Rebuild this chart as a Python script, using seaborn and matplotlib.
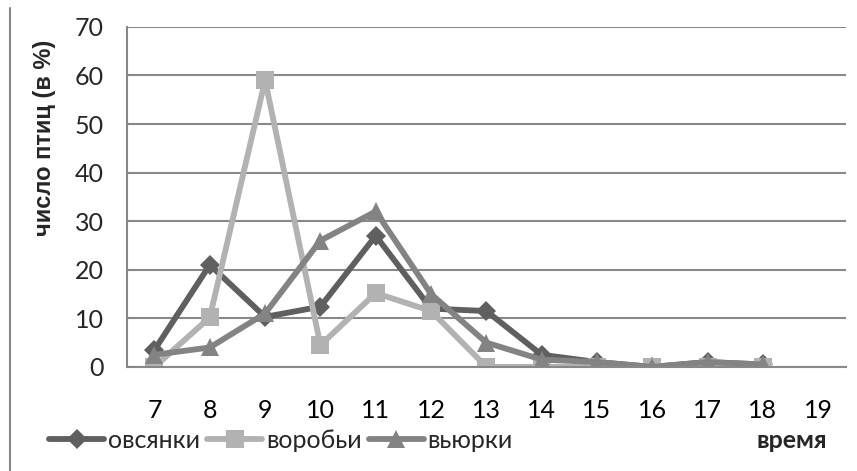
import matplotlib.pyplot as plt
import numpy as np
import pandas as pd
import seaborn as sns
from matplotlib.lines import Line2D

hours = [7, 8, 9, 10, 11, 12, 13, 14, 15, 16, 17, 18]
ovsyanki = [3.5, 21, 10.3, 12.4, 27, 12, 11.5, 2.5, 1, 0, 1, 0.5]
vorobyi = [0, 10.2, 59, 4.5, 15.2, 11.5, 0, 0, 0, 0, 0, 0]
vyurki = [2.5, 4, 11, 26, 32, 15, 5, 1.5, 1, 0, 1, 0.5]
series_names = ["овсянки", "воробьи", "вьюрки"]
x_ticks = list(range(7, 20))
y_ticks = [0, 10, 20, 30, 40, 50, 60, 70]

df = pd.DataFrame({"hour": hours * 3,
                   "value": ovsyanki + vorobyi + vyurki,
                   "bird": np.repeat(series_names, len(hours))})

sns.set_style("white")
plt.rcParams["font.family"] = ["Lato", "DejaVu Sans"]

fig = plt.figure(figsize=(8.57, 4.71), dpi=100)
ax = fig.add_axes([0.148, 0.221, 0.839, 0.722])

palette = {"овсянки": "#5f5f5f", "воробьи": "#b2b2b2", "вьюрки": "#838383"}
markers = {"овсянки": "D", "воробьи": "s", "вьюрки": "^"}
sizes = {"овсянки": 10, "воробьи": 12.5, "вьюрки": 13.5}
for name in series_names:
    sub = df[df["bird"] == name]
    sns.lineplot(data=sub, x="hour", y="value", ax=ax, color=palette[name],
                 marker=markers[name], markersize=sizes[name], markeredgewidth=0,
                 linewidth=4.2, label=name)

ax.set_xlim(6.5, 19.5)
ax.set_ylim(0, 70)
ax.set_yticks(y_ticks)
ax.set_xticks(x_ticks)
ax.set_xticks(np.arange(6.5, 19.6, 1), minor=True)
ax.tick_params(axis="x", which="major", length=0, pad=23, labelsize=18, colors="black")
ax.tick_params(axis="x", which="minor", length=5, width=1.2, color="#888888", direction="out")
ax.tick_params(axis="y", length=6.5, width=1.5, color="#888888", labelsize=18, pad=10)
ax.yaxis.grid(True, color="#888888", linewidth=1.5)
ax.set_axisbelow(True)
for side in ["top", "right"]:
    ax.spines[side].set_visible(False)
for side in ["left", "bottom"]:
    ax.spines[side].set_color("#888888")
    ax.spines[side].set_linewidth(1.5)
ax.set_xlabel("")
ax.set_ylabel("")
fig.text(45 / 857, 1 - 138 / 471, "число птиц (в %)", fontsize=17, fontweight="bold",
         family=["Liberation Sans", "DejaVu Sans"], rotation=90, ha="center", va="center")

handles, labels = ax.get_legend_handles_labels()
ax.get_legend().remove()
fig.legend(handles, labels, loc="center left", bbox_to_anchor=(49 / 857, 1 - 440 / 471),
           ncol=3, frameon=False, fontsize=18, handlelength=2.2,
           handletextpad=0.16, columnspacing=0.28, borderaxespad=0, borderpad=0)
fig.text(792 / 857, 1 - 440 / 471, "время", fontsize=18, fontweight="bold",
         ha="center", va="center")
fig.add_artist(Line2D([10 / 857, 10 / 857], [0, 1 - 8 / 471], color="#888888",
                      linewidth=1.5, transform=fig.transFigure))

fig.savefig("out.png", dpi=100)
